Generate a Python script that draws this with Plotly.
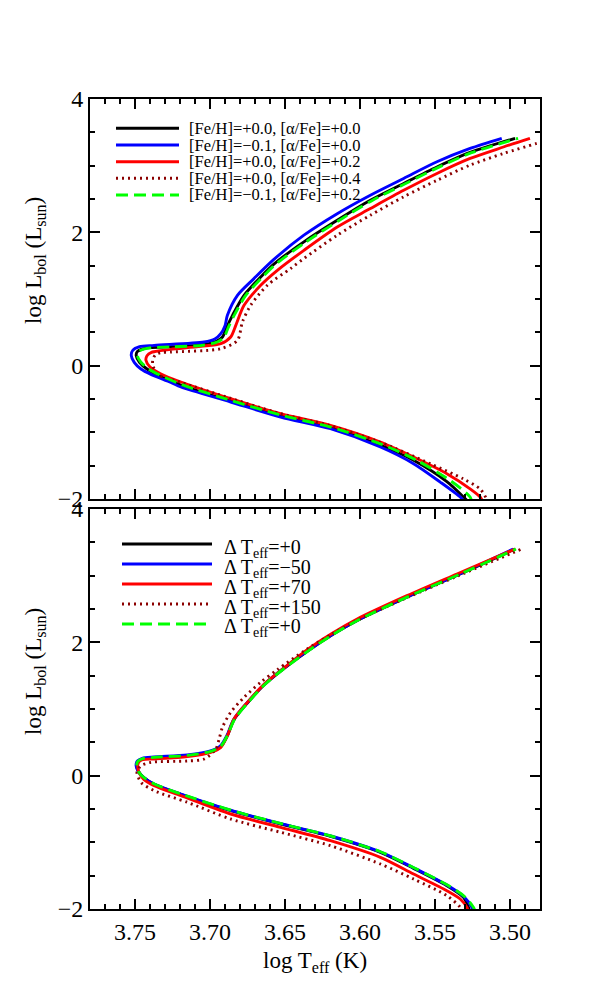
import plotly.graph_objects as go

_FONT = "Liberation Serif"
_TEXT = "#000000"

# colours / dash styles shared by both panels (legend order)
line_colors = ["#000000", "#0000ff", "#ff0000", "#8b0000", "#00ff00"]
line_dashes = ["solid", "solid", "solid", "2px,4px", "12px,6px"]
line_widths = [2.9, 2.9, 2.9, 2.9, 2.9]

# ---- top panel: composition ----
top_labels = [
    "[Fe/H]=+0.0, [α/Fe]=+0.0",
    "[Fe/H]=−0.1, [α/Fe]=+0.0",
    "[Fe/H]=+0.0, [α/Fe]=+0.2",
    "[Fe/H]=+0.0, [α/Fe]=+0.4",
    "[Fe/H]=−0.1, [α/Fe]=+0.2",
]

top_black_x = [3.5275, 3.5310, 3.5421, 3.5643, 3.5864, 3.6197, 3.6529, 3.6862, 3.7194, 3.7349,
               3.7420, 3.7470, 3.7492, 3.7485, 3.7450, 3.7400, 3.7261, 3.7061, 3.6961, 3.6917,
               3.6888, 3.6850, 3.6773, 3.6662, 3.6576, 3.6374, 3.6152, 3.5931, 3.5709, 3.5487,
               3.5266, 3.4966]
top_black_y = [-2.05, -1.97, -1.74, -1.42, -1.19, -0.93, -0.75, -0.53, -0.29, -0.14,
               -0.05, 0.05, 0.15, 0.21, 0.25, 0.27, 0.285, 0.31, 0.36, 0.43,
               0.58, 0.755, 1.055, 1.33, 1.52, 1.857, 2.18, 2.48, 2.733, 2.98,
               3.198, 3.41]

top_blue_x = [3.5300, 3.5332, 3.5465, 3.5643, 3.5864, 3.6197, 3.6529, 3.6862, 3.7194, 3.7261,
              3.7394, 3.7460, 3.7505, 3.7525, 3.7515, 3.7470, 3.7372, 3.7039, 3.6968, 3.6928,
              3.6900, 3.6884, 3.6817, 3.6707, 3.6576, 3.6374, 3.6152, 3.5931, 3.5709, 3.5487,
              3.5266, 3.5055]
top_blue_y = [-2.05, -1.97, -1.746, -1.47, -1.22, -0.946, -0.77, -0.545, -0.32, -0.25,
              -0.13, -0.05, 0.05, 0.155, 0.23, 0.285, 0.305, 0.355, 0.40, 0.48,
              0.60, 0.755, 1.055, 1.306, 1.59, 1.957, 2.28, 2.557, 2.808, 3.058,
              3.258, 3.41]

top_red_x = [3.5180, 3.5199, 3.5266, 3.5421, 3.5643, 3.5864, 3.6197, 3.6529, 3.6862, 3.7194,
             3.7330, 3.7400, 3.7427, 3.7420, 3.7390, 3.7330, 3.7261, 3.7061, 3.6928, 3.6862,
             3.6828, 3.6773, 3.6662, 3.6551, 3.6374, 3.6152, 3.5931, 3.5709, 3.5487, 3.5266,
             3.5044, 3.4867]
top_red_y = [-2.05, -1.97, -1.847, -1.62, -1.37, -1.146, -0.896, -0.72, -0.495, -0.245,
             -0.12, -0.02, 0.08, 0.15, 0.20, 0.225, 0.245, 0.29, 0.33, 0.43,
             0.605, 0.905, 1.206, 1.43, 1.73, 2.08, 2.357, 2.63, 2.883, 3.108,
             3.28, 3.41]

top_dot_x = [3.5140, 3.5155, 3.5199, 3.5310, 3.5532, 3.5864, 3.6197, 3.6529, 3.6862, 3.7194,
             3.7349, 3.7380, 3.7382, 3.7365, 3.7330, 3.7261, 3.6928, 3.6817, 3.6784, 3.6729,
             3.6618, 3.6463, 3.6374, 3.6152, 3.5931, 3.5709, 3.5487, 3.5266, 3.5044, 3.4822,
             3.4667]
top_dot_y = [-2.05, -2.0, -1.85, -1.70, -1.47, -1.15, -0.90, -0.72, -0.49, -0.25,
             -0.13, 0.0, 0.08, 0.16, 0.195, 0.205, 0.255, 0.38, 0.655, 0.905,
             1.206, 1.456, 1.607, 1.957, 2.257, 2.533, 2.78, 3.008, 3.183, 3.333,
             3.43]

top_green_x = [3.5255, 3.5266, 3.5400, 3.5630, 3.5855, 3.6190, 3.6522, 3.6855, 3.7188, 3.7340,
               3.7412, 3.7462, 3.7484, 3.7477, 3.7442, 3.7392, 3.7252, 3.7052, 3.6952, 3.6907,
               3.6878, 3.6840, 3.6763, 3.6652, 3.6566, 3.6364, 3.6142, 3.5921, 3.5699, 3.5477,
               3.5256, 3.4946]
top_green_y = [-2.05, -1.97, -1.72, -1.41, -1.18, -0.925, -0.745, -0.525, -0.285, -0.135,
               -0.045, 0.055, 0.15, 0.21, 0.248, 0.268, 0.283, 0.305, 0.355, 0.425,
               0.575, 0.75, 1.05, 1.325, 1.515, 1.85, 2.175, 2.475, 2.728, 2.975,
               3.195, 3.41]

# ---- bottom panel: Teff offsets ----
bot_labels = [
    "Δ T<sub>eff</sub>=+0",
    "Δ T<sub>eff</sub>=−50",
    "Δ T<sub>eff</sub>=+70",
    "Δ T<sub>eff</sub>=+150",
    "Δ T<sub>eff</sub>=+0",
]

bot_black_x = [3.5265, 3.5277, 3.5310, 3.5421, 3.5643, 3.5864, 3.6197, 3.6529, 3.6862, 3.7194,
               3.7372, 3.7440, 3.7475, 3.7488, 3.7480, 3.7449, 3.7372, 3.7150, 3.6995, 3.6928,
               3.6884, 3.6840, 3.6751, 3.6640, 3.6529, 3.6342, 3.6180, 3.6009, 3.5677, 3.5344,
               3.4966]
bot_black_y = [-2.05, -1.975, -1.825, -1.65, -1.39, -1.15, -0.91, -0.725, -0.525, -0.28,
               -0.13, -0.03, 0.06, 0.15, 0.21, 0.25, 0.27, 0.30, 0.36, 0.435,
               0.60, 0.84, 1.09, 1.36, 1.57, 1.88, 2.12, 2.34, 2.69, 3.015,
               3.40]

bot_blue_x = [3.5240, 3.5254, 3.5305, 3.5418, 3.5640, 3.5862, 3.6195, 3.6527, 3.6860, 3.7194,
              3.7374, 3.7444, 3.7480, 3.7493, 3.7484, 3.7452, 3.7374, 3.7152, 3.6997, 3.6932,
              3.6888, 3.6843, 3.6754, 3.6643, 3.6532, 3.6344, 3.6182, 3.6011, 3.5679, 3.5346,
              3.4979]
bot_blue_y = [-2.05, -1.975, -1.82, -1.645, -1.385, -1.145, -0.905, -0.72, -0.52, -0.275,
              -0.125, -0.025, 0.065, 0.155, 0.22, 0.26, 0.28, 0.31, 0.37, 0.445,
              0.60, 0.84, 1.09, 1.36, 1.57, 1.88, 2.12, 2.34, 2.69, 3.015,
              3.40]

bot_red_x = [3.5275, 3.5288, 3.5332, 3.5421, 3.5643, 3.5864, 3.6197, 3.6529, 3.6862, 3.7194,
             3.7372, 3.7440, 3.7472, 3.7482, 3.7475, 3.7449, 3.7372, 3.7150, 3.6995, 3.6928,
             3.6884, 3.6840, 3.6751, 3.6640, 3.6529, 3.6352, 3.6190, 3.6019, 3.5687, 3.5354,
             3.4966]
bot_red_y = [-2.05, -1.975, -1.85, -1.725, -1.475, -1.225, -0.975, -0.775, -0.575, -0.30,
             -0.15, -0.06, 0.04, 0.15, 0.205, 0.24, 0.25, 0.285, 0.35, 0.425,
             0.60, 0.85, 1.10, 1.37, 1.575, 1.89, 2.13, 2.35, 2.70, 3.025,
             3.40]

bot_dot_x = [3.5320, 3.5332, 3.5421, 3.5643, 3.5864, 3.6197, 3.6529, 3.6862, 3.7150, 3.7372,
             3.7460, 3.7487, 3.7475, 3.7460, 3.7394, 3.7150, 3.7039, 3.6961, 3.6939, 3.6917,
             3.6862, 3.6773, 3.6662, 3.6551, 3.6352, 3.6190, 3.6019, 3.5687, 3.5354, 3.4922]
bot_dot_y = [-2.05, -1.975, -1.80, -1.55, -1.325, -1.05, -0.85, -0.65, -0.40, -0.225,
             -0.10, 0.05, 0.11, 0.15, 0.20, 0.22, 0.25, 0.40, 0.55, 0.725,
             0.95, 1.175, 1.40, 1.59, 1.90, 2.12, 2.33, 2.67, 2.99, 3.40]

bot_green_x = [3.5230, 3.5244, 3.5300, 3.5414, 3.5637, 3.5860, 3.6193, 3.6525, 3.6858, 3.7192,
               3.7370, 3.7440, 3.7476, 3.7489, 3.7481, 3.7450, 3.7372, 3.7150, 3.6995, 3.6929,
               3.6884, 3.6838, 3.6749, 3.6638, 3.6527, 3.6340, 3.6178, 3.6007, 3.5675, 3.5342,
               3.4960]
bot_green_y = [-2.05, -1.975, -1.82, -1.645, -1.385, -1.145, -0.905, -0.72, -0.52, -0.275,
               -0.125, -0.03, 0.06, 0.15, 0.215, 0.255, 0.275, 0.305, 0.365, 0.44,
               0.60, 0.84, 1.09, 1.36, 1.57, 1.88, 2.12, 2.34, 2.69, 3.015,
               3.40]

x_range = [3.78, 3.48]
y_range = [-2, 4]
x_ticks = [3.75, 3.70, 3.65, 3.60, 3.55, 3.50]
y_ticks = [-2, 0, 2, 4]

top_series = [(top_black_x, top_black_y), (top_blue_x, top_blue_y), (top_red_x, top_red_y),
              (top_dot_x, top_dot_y), (top_green_x, top_green_y)]
bot_series = [(bot_black_x, bot_black_y), (bot_blue_x, bot_blue_y), (bot_red_x, bot_red_y),
              (bot_dot_x, bot_dot_y), (bot_green_x, bot_green_y)]

# geometry: the page adds an 8px body margin, so work in page pixels
OFF = 8
W, H = 592, 992
L, T = 82, 91
PW, PH = 450, 810
R, B = W - L - PW, H - T - PH
TOP_PANEL = (499, 99)   # bottom, top page rows
BOT_PANEL = (909, 509)


def px_x(px):
    return (px - OFF - L) / PW


def px_y(py):
    return (T + PH - (py - OFF)) / PH


fig = go.Figure()

for (xs, ys), col, dash, w, name in zip(top_series, line_colors, line_dashes, line_widths, top_labels):
    fig.add_trace(go.Scatter(
        x=xs, y=ys, mode="lines", name=name, xaxis="x2", yaxis="y2",
        line=dict(color=col, dash=dash, width=w, shape="spline", smoothing=0.8),
        showlegend=False,
    ))

for (xs, ys), col, dash, w, name in zip(bot_series, line_colors, line_dashes, line_widths, bot_labels):
    fig.add_trace(go.Scatter(
        x=xs, y=ys, mode="lines", name=name, xaxis="x", yaxis="y",
        line=dict(color=col, dash=dash, width=w, shape="spline", smoothing=0.8),
        showlegend=False,
    ))


def _xaxis(**kw):
    d = dict(
        range=x_range, tickvals=x_ticks, ticktext=[f"{v:.2f}" for v in x_ticks],
        ticks="inside", ticklen=10, tickwidth=1.6, tickcolor=_TEXT,
        minor=dict(dtick=0.01, tick0=3.50, ticks="inside", ticklen=5, tickwidth=1.6, tickcolor=_TEXT),
        showline=True, linecolor=_TEXT, linewidth=2, mirror="ticks",
        showgrid=False, zeroline=False,
        tickfont=dict(family=_FONT, size=24, color=_TEXT),
    )
    d.update(kw)
    return d


def _yaxis(**kw):
    d = dict(
        range=y_range, tickvals=y_ticks,
        ticks="inside", ticklen=10, tickwidth=1.6, tickcolor=_TEXT,
        minor=dict(dtick=0.5, tick0=0, ticks="inside", ticklen=5, tickwidth=1.6, tickcolor=_TEXT),
        showline=True, linecolor=_TEXT, linewidth=2, mirror="ticks",
        showgrid=False, zeroline=False,
        tickfont=dict(family=_FONT, size=24, color=_TEXT),
    )
    d.update(kw)
    return d


fig.update_layout(
    width=W, height=H, autosize=False,
    margin=dict(l=L, r=R, t=T, b=B, pad=0),
    paper_bgcolor="white", plot_bgcolor="white",
    font=dict(family=_FONT, size=22, color=_TEXT),
    showlegend=False,
    xaxis=_xaxis(domain=[0, 1], anchor="y"),
    yaxis=_yaxis(domain=[px_y(BOT_PANEL[0]), px_y(BOT_PANEL[1])], anchor="x"),
    xaxis2=_xaxis(domain=[0, 1], anchor="y2", matches="x", showticklabels=False),
    yaxis2=_yaxis(domain=[px_y(TOP_PANEL[0]), px_y(TOP_PANEL[1])], anchor="x2"),
)

# axis titles
fig.add_annotation(text="log T<sub>eff</sub> (K)", xref="paper", yref="paper",
                   x=px_x(315), y=px_y(962), xanchor="center", yanchor="middle", showarrow=False,
                   font=dict(family=_FONT, size=23, color=_TEXT))
for cy in (261, 672):
    fig.add_annotation(text="log L<sub>bol</sub> (L<sub>sun</sub>)", xref="paper", yref="paper",
                       x=px_x(35), y=px_y(cy), xanchor="center", yanchor="middle",
                       textangle=-90, showarrow=False,
                       font=dict(family=_FONT, size=23, color=_TEXT))

# hand-drawn legends, like the original
top_rows = [128.3, 145, 161.7, 178.3, 195]
for row, col, dash, w, lab in zip(top_rows, line_colors, line_dashes, line_widths, top_labels):
    fig.add_shape(type="line", xref="paper", yref="paper",
                  x0=px_x(116), x1=px_x(179), y0=px_y(row), y1=px_y(row),
                  line=dict(color=col, dash=dash, width=w))
    fig.add_annotation(text=lab, xref="paper", yref="paper", x=px_x(188), y=px_y(row),
                       xanchor="left", yanchor="middle", showarrow=False, borderpad=0,
                       font=dict(family=_FONT, size=16.5, color=_TEXT))

bot_rows = [544, 564, 584, 604, 624]
for row, col, dash, w, lab in zip(bot_rows, line_colors, line_dashes, line_widths, bot_labels):
    fig.add_shape(type="line", xref="paper", yref="paper",
                  x0=px_x(122), x1=px_x(212), y0=px_y(row), y1=px_y(row),
                  line=dict(color=col, dash=dash, width=w))
    fig.add_annotation(text=lab, xref="paper", yref="paper", x=px_x(223), y=px_y(row + 4),
                       xanchor="left", yanchor="middle", showarrow=False, borderpad=0,
                       font=dict(family=_FONT, size=20, color=_TEXT))

fig.write_html("out.html")
